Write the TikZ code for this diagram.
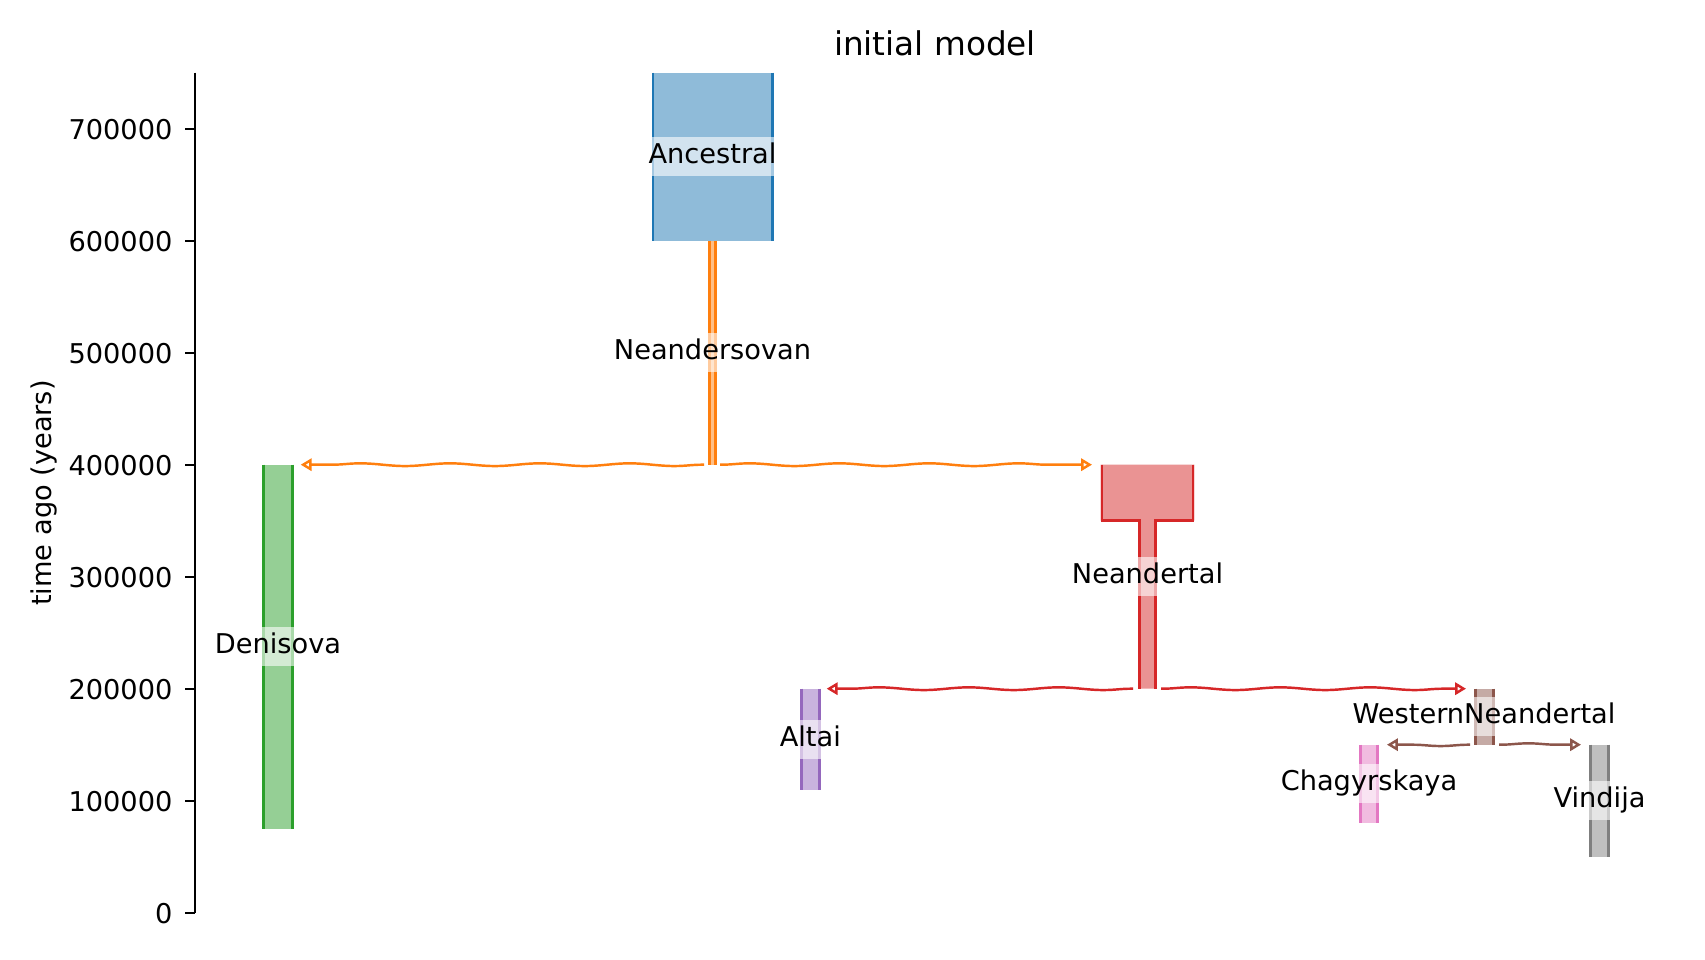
\documentclass[tikz,border=0pt]{standalone}
\usepackage{fontspec}
\setmainfont{DejaVu Sans}
\usetikzlibrary{arrows.meta,decorations.pathmorphing}
\definecolor{tabblue}{HTML}{1F77B4}\definecolor{fblue}{HTML}{8FBBD9}
\definecolor{taborange}{HTML}{FF7F0E}\definecolor{forange}{HTML}{FFBF86}
\definecolor{tabgreen}{HTML}{2CA02C}\definecolor{fgreen}{HTML}{95CF95}
\definecolor{tabred}{HTML}{D62728}\definecolor{fred}{HTML}{EA9393}
\definecolor{tabpurple}{HTML}{9467BD}\definecolor{fpurple}{HTML}{C9B3DE}
\definecolor{tabbrown}{HTML}{8C564B}\definecolor{fbrown}{HTML}{C5AAA5}
\definecolor{tabpink}{HTML}{E377C2}\definecolor{fpink}{HTML}{F1BBE0}
\definecolor{tabgray}{HTML}{7F7F7F}\definecolor{fgray}{HTML}{BFBFBF}
\begin{document}
\begin{tikzpicture}[x=0.36735pt,y=-0.36735pt]
\tikzset{
  edgeline/.style={line width=0.95pt},
  lbl/.style={fill=white, fill opacity=0.6, text opacity=1, inner xsep=1.5pt, inner ysep=0pt,
    minimum height=14.3pt, text height=7.6pt, text depth=2.4pt, font=\fontsize{10}{12}\selectfont},
  wave/.style={line width=0.9pt, decorate,
    decoration={snake, amplitude=0.5pt, segment length=33pt, pre length=0.5pt, post length=5pt}},
  tiparrow/.style={-{Triangle[open,length=4pt,width=4.5pt,line width=0.9pt]}},
  tickline/.style={line width=0.85pt},
  ticklbl/.style={anchor=base east, inner sep=0pt, font=\fontsize{10}{12}\selectfont}
}
\useasboundingbox (0,0) rectangle (1705,960);
\fill[white] (0,0) rectangle (1705,960);

% axis
\draw[tickline] (195,72.7) -- (195,912.7);
\foreach \v/\t in {0/0,1/100000,2/200000,3/300000,4/400000,5/500000,6/600000,7/700000}{
  \draw[tickline] (185,{912.7-112*\v}) -- (195,{912.7-112*\v});
  \node[ticklbl] (tk\v) at (173,{912.7-112*\v+11}) {\t};
}
\node[anchor=base, rotate=90, inner sep=0pt, font=\fontsize{10}{12}\selectfont] (ylab) at (52,493) {time ago (years)};
\node[anchor=base, inner sep=0pt, font=\fontsize{12}{14}\selectfont] (title) at (935,56) {initial model};

% Ancestral
\fill[fblue] (651.5,72.7) rectangle (773.5,240.7);
\draw[edgeline,tabblue] (652.8,72.7) -- (652.8,240.7);
\draw[edgeline,tabblue] (772.2,72.7) -- (772.2,240.7);
% Neandersovan
\fill[forange] (708.3,240.7) rectangle (716.7,464.7);
\draw[edgeline,taborange] (709.6,240.7) -- (709.6,464.7);
\draw[edgeline,taborange] (715.4,240.7) -- (715.4,464.7);
% Denisova
\fill[fgreen] (262,464.7) rectangle (294,828.7);
\draw[edgeline,tabgreen] (263.3,464.7) -- (263.3,828.7);
\draw[edgeline,tabgreen] (292.7,464.7) -- (292.7,828.7);
% Neandertal
\fill[fred] (1100.7,464.7) -- (1194.3,464.7) -- (1194.3,520.7) -- (1156.7,520.7) -- (1156.7,688.7)
  -- (1138.3,688.7) -- (1138.3,520.7) -- (1100.7,520.7) -- cycle;
\draw[edgeline,tabred] (1102,464.7) -- (1102,520.7) -- (1139.6,520.7) -- (1139.6,688.7);
\draw[edgeline,tabred] (1193,464.7) -- (1193,520.7) -- (1155.4,520.7) -- (1155.4,688.7);
% Altai
\fill[fpurple] (800,688.7) rectangle (820.7,789.5);
\draw[edgeline,tabpurple] (801.3,688.7) -- (801.3,789.5);
\draw[edgeline,tabpurple] (819.4,688.7) -- (819.4,789.5);
% WesternNeandertal
\fill[fbrown] (1474,688.7) rectangle (1494.5,744.7);
\draw[edgeline,tabbrown] (1475.3,688.7) -- (1475.3,744.7);
\draw[edgeline,tabbrown] (1493.2,688.7) -- (1493.2,744.7);
% Chagyrskaya
\fill[fpink] (1359,744.7) rectangle (1379,823.1);
\draw[edgeline,tabpink] (1360.3,744.7) -- (1360.3,823.1);
\draw[edgeline,tabpink] (1377.7,744.7) -- (1377.7,823.1);
% Vindija
\fill[fgray] (1589,744.7) rectangle (1610,856.7);
\draw[edgeline,tabgray] (1590.3,744.7) -- (1590.3,856.7);
\draw[edgeline,tabgray] (1608.7,744.7) -- (1608.7,856.7);

% connector end points
\coordinate (oS1) at (704,464.7);  \coordinate (oE1) at (300.7,464.7);
\coordinate (oS2) at (720,464.7);  \coordinate (oE2) at (1092,464.7);
\coordinate (rS1) at (1133,688.7); \coordinate (rE1) at (826.7,688.7);
\coordinate (rS2) at (1161,688.7); \coordinate (rE2) at (1466,688.7);
\coordinate (bS1) at (1470,744.7); \coordinate (bE1) at (1387,744.7);
\coordinate (bS2) at (1499,744.7); \coordinate (bE2) at (1581,744.7);

\draw[wave,tiparrow,taborange] (oS1) -- (oE1);
\draw[wave,tiparrow,taborange] (oS2) -- (oE2);
\draw[wave,tiparrow,tabred] (rS1) -- (rE1);
\draw[wave,tiparrow,tabred] (rS2) -- (rE2);
\draw[wave,tiparrow,tabbrown] (bS1) -- (bE1);
\draw[wave,tiparrow,tabbrown] (bS2) -- (bE2);

% labels
\node[lbl] (lAnc) at (712.5,156.7) {Ancestral};
\node[lbl] (lNsv) at (712.5,352.7) {Neandersovan};
\node[lbl] (lDen) at (278,646.7) {Denisova};
\node[lbl] (lNea) at (1147.5,576.7) {Neandertal};
\node[lbl] (lAlt) at (810.3,739.1) {Altai};
\node[lbl] (lWN) at (1484,716.7) {WesternNeandertal};
\node[lbl] (lCha) at (1369,783.9) {Chagyrskaya};
\node[lbl] (lVin) at (1599.5,800.7) {Vindija};
\end{tikzpicture}
\end{document}
